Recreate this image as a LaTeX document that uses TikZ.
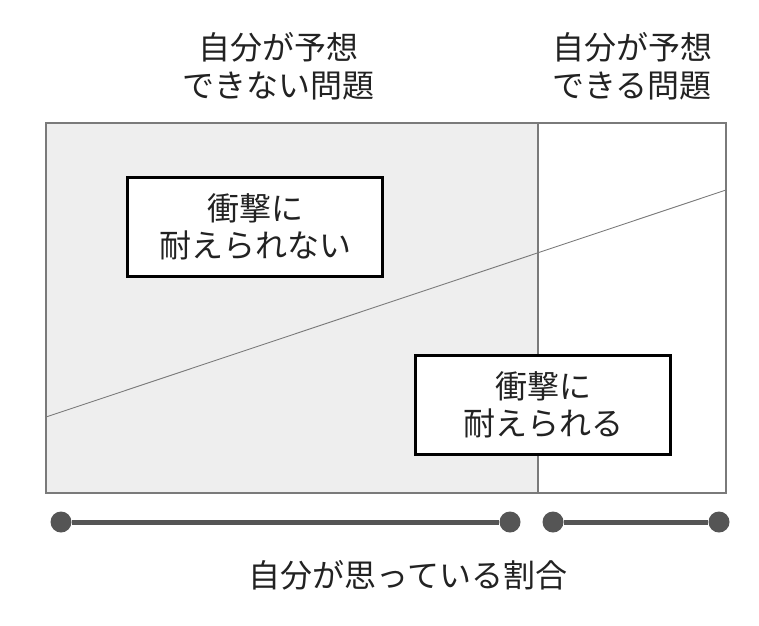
\documentclass[tikz,border=0pt]{standalone}
\usepackage{fontspec}
\newfontfamily\jpfont{Noto Sans CJK JP}
\usepackage{xcolor}
\usepackage{tikz}
\definecolor{framegray}{HTML}{7A7A7A}
\definecolor{fillgray}{HTML}{EEEEEE}
\definecolor{bargray}{HTML}{555555}
\definecolor{textgray}{HTML}{222222}

\begin{document}
\begin{tikzpicture}[x=1pt, y=-1pt,
        caption/.style={font=\jpfont\fontsize{32}{38}\selectfont, text=textgray, align=center, inner sep=0pt},
        result/.style={draw=black, line width=3pt, fill=white, minimum width=255pt, minimum height=99pt,
            font=\jpfont\fontsize{32}{37}\selectfont, text=textgray, align=center},
        dot/.style={circle, fill=bargray, minimum size=21pt, inner sep=0pt},
        bar/.style={bargray, line width=5pt}
    ]
    \useasboundingbox (0,0) rectangle (759,625);

    % 領域
    \fill[fillgray] (46,123) rectangle (538,493);
    \draw[framegray, line width=1.2pt] (46,123) rectangle (726,493);
    \draw[framegray, line width=1.2pt] (538,123) -- (538,493);

    % 境界線
    \coordinate (lineL) at (46,417);
    \coordinate (lineR) at (726,190);
    \draw[framegray, line width=0.9pt] (lineL) -- (lineR);

    % 見出し
    \node[caption] (unforeseen) at (278,66) {自分が予想\\できない問題};
    \node[caption] (foreseen) at (632,66) {自分が予想\\できる問題};

    % 箱
    \node[result] (cannot) at (255,227) {衝撃に\\耐えられない};
    \node[result] (can) at (543,405) {衝撃に\\耐えられる};

    % 割合
    \node[dot] (d1) at (61,522) {};
    \node[dot] (d2) at (510,522) {};
    \node[dot] (d3) at (553,522) {};
    \node[dot] (d4) at (719,522) {};
    \draw[bar] (d1) -- (d2);
    \draw[bar] (d3) -- (d4);

    \node[caption] (ratio) at (408,575) {自分が思っている割合};

\end{tikzpicture}
\end{document}
